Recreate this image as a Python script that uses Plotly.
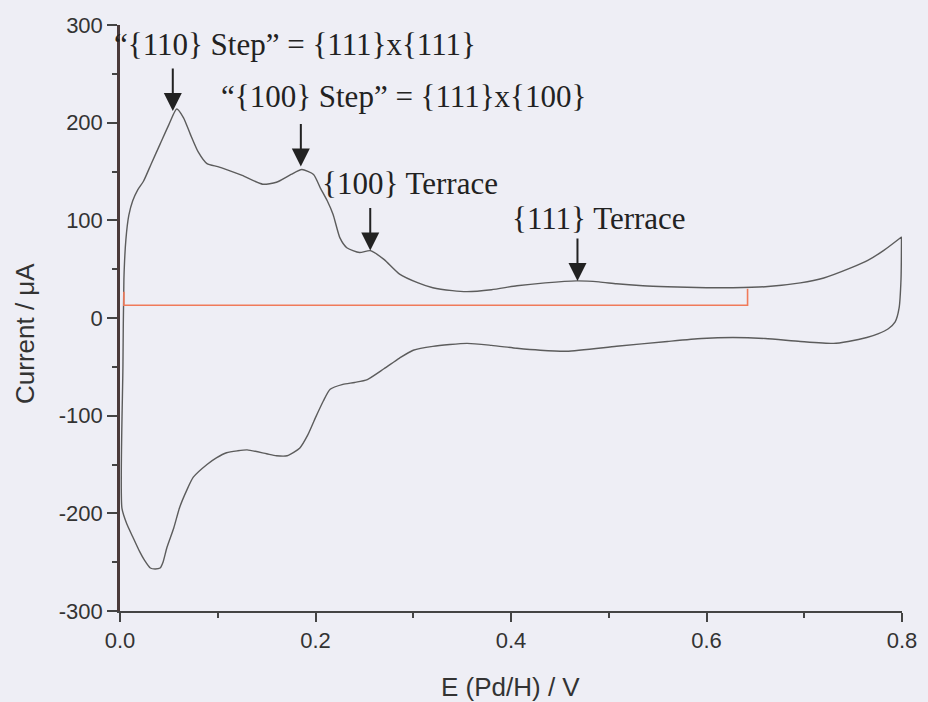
import plotly.graph_objects as go

# Anodic sweep (0 -> 0.8 V)
E_anodic = [0.002, 0.003, 0.004, 0.006, 0.009, 0.013, 0.018, 0.024, 0.032, 0.041, 0.050, 0.058,
            0.065, 0.072, 0.080, 0.089, 0.100, 0.109, 0.125, 0.146, 0.160, 0.175, 0.186, 0.198,
            0.205, 0.212, 0.218, 0.225, 0.232, 0.245, 0.256, 0.270, 0.286, 0.305, 0.320, 0.340,
            0.355, 0.380, 0.406, 0.435, 0.467, 0.490, 0.508, 0.535, 0.560, 0.600, 0.627, 0.660,
            0.696, 0.720, 0.747, 0.765, 0.781, 0.7995]
I_anodic = [-195, -50, 40, 80, 105, 120, 131, 140, 158, 178, 198, 214,
            205, 188, 170, 158, 155, 152, 146, 137, 139, 147, 152, 147,
            133, 120, 106, 82, 72, 67, 69, 60, 45, 36, 31, 28,
            27, 29, 33, 36, 38, 37, 35, 33, 32, 31, 31, 32,
            36, 41, 51, 59, 69, 83]

# Cathodic sweep (0.8 -> 0 V)
E_cathodic = [0.7995, 0.799, 0.797, 0.793, 0.786, 0.776, 0.764, 0.745, 0.730, 0.696, 0.660, 0.627,
              0.595, 0.560, 0.508, 0.457, 0.430, 0.406, 0.380, 0.355, 0.320, 0.300, 0.286, 0.270,
              0.253, 0.240, 0.228, 0.215, 0.208, 0.200, 0.192, 0.184, 0.171, 0.160, 0.150, 0.130,
              0.120, 0.109, 0.099, 0.089, 0.075, 0.068, 0.061, 0.055, 0.048, 0.044, 0.041, 0.036,
              0.031, 0.025, 0.020, 0.013, 0.007, 0.002]
I_cathodic = [83, 40, 10, -4, -11, -16, -20, -24, -26, -24, -21, -20,
              -21, -24, -29, -34, -33, -31, -28, -26, -29, -33, -41, -52,
              -63, -66, -68, -73, -85, -102, -120, -133, -141, -141, -139, -135,
              -136, -138, -143, -150, -163, -177, -194, -215, -235, -250, -256, -257,
              -256, -248, -239, -224, -211, -195]

# Orange baseline bracket
E_base = [0.004, 0.004, 0.642, 0.642]
I_base = [27, 13, 13, 30]

# Annotations: label text, label anchor (E, I), arrow tip (E, I)
labels = ["\u201c{110} Step\u201d = {111}x{111}",
          "\u201c{100} Step\u201d = {111}x{100}",
          "{100} Terrace",
          "{111} Terrace"]
label_E = [0.0, 0.101, 0.205, 0.399]
label_I = [280, 227, 138, 102]
label_shift = [-8, 0, 0, 0]
arrow_E = [0.054, 0.185, 0.256, 0.468]
arrow_I = [212, 155, 69, 38]

x_ticks = [0.0, 0.2, 0.4, 0.6, 0.8]
x_ticktext = ["0.0", "0.2", "0.4", "0.6", "0.8"]
y_ticks = [-300, -200, -100, 0, 100, 200, 300]
y_ticktext = ["-300", "-200", "-100", "0", "100", "200", "300"]

bg = "#eeeef5"

fig = go.Figure()
fig.add_trace(go.Scatter(x=E_anodic + E_cathodic, y=I_anodic + I_cathodic, mode="lines",
                         line=dict(color="#5c5c5c", width=1.4, shape="spline", smoothing=0.6),
                         showlegend=False, hoverinfo="skip"))
fig.add_trace(go.Scatter(x=E_base, y=I_base, mode="lines",
                         line=dict(color="#f07a5a", width=1.6), showlegend=False,
                         hoverinfo="skip"))

annotations = []
for t, lx, ly, sh in zip(labels, label_E, label_I, label_shift):
    annotations.append(dict(x=lx, y=ly, xref="x", yref="y", text=t, showarrow=False,
                            xanchor="left", yanchor="middle", xshift=sh,
                            font=dict(family="Liberation Serif", size=31, color="#222222")))
for ax_, ay_ in zip(arrow_E, arrow_I):
    annotations.append(dict(x=ax_, y=ay_, xref="x", yref="y", text="", showarrow=True,
                            ax=0, ay=-44, arrowhead=2, arrowwidth=2, arrowsize=1.8,
                            arrowcolor="#222222", standoff=0))
annotations.append(dict(x=25, y=334, xref="paper", yref="paper", text="Current / \u03bcA",
                        showarrow=False, textangle=-90))
annotations.append(dict(x=510, y=687, xref="paper", yref="paper", text="E (Pd/H) / V",
                        showarrow=False))
W, H = 928, 702
ml, mr, mt, mb = 120, 26, 25, 91
pw, ph = W - ml - mr, H - mt - mb
for a in annotations[-2:]:
    a["x"] = (a["x"] - ml) / pw
    a["y"] = 1 - (a["y"] - mt) / ph
    a["xanchor"] = "center"
    a["yanchor"] = "middle"
    a["font"] = dict(family="Liberation Sans", size=26, color="#333333")

fig.update_layout(
    width=W, height=H,
    margin=dict(l=ml, r=mr, t=mt, b=mb),
    paper_bgcolor=bg, plot_bgcolor=bg,
    annotations=annotations,
    xaxis=dict(range=[0, 0.8], tickvals=x_ticks, ticktext=x_ticktext,
               ticks="outside", ticklen=9, tickwidth=2, tickcolor="#444444",
               showline=True, linecolor="#444444", linewidth=2,
               showgrid=False, zeroline=False,
               tickfont=dict(family="Liberation Sans", size=22, color="#333333"),
               minor=dict(tickvals=[0.1, 0.3, 0.5, 0.7], ticks="outside", ticklen=5,
                          tickwidth=2, tickcolor="#444444")),
    yaxis=dict(range=[-300, 300], tickvals=y_ticks, ticktext=y_ticktext,
               ticks="outside", ticklen=10, tickwidth=2, tickcolor="#444444",
               showline=True, linecolor="#4a3a3a", linewidth=2.5,
               showgrid=False, zeroline=False,
               tickfont=dict(family="Liberation Sans", size=22, color="#333333"),
               minor=dict(tickvals=[-250, -150, -50, 50, 150, 250], ticks="outside",
                          ticklen=5, tickwidth=2, tickcolor="#444444")),
)

fig.write_html("out.html", config={"displayModeBar": False},
               post_script="document.body.style.margin='0';document.body.style.background='" + bg + "';")
